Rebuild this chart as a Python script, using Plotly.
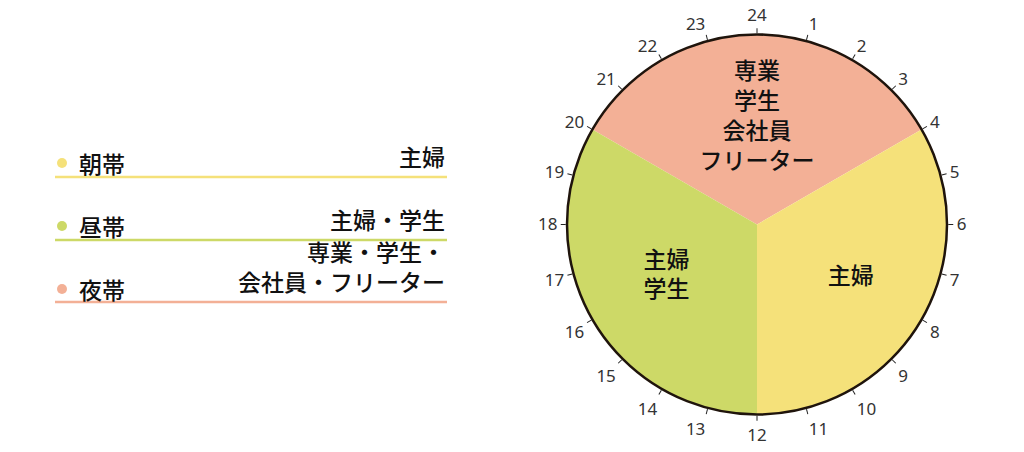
import plotly.graph_objects as go

# time bands (hours on a 24h clock)
bands = ["夜帯", "朝帯", "昼帯"]
band_start = [20, 4, 12]
band_hours = [8, 8, 8]
band_colors = ["#F3B096", "#F5E17A", "#CDD967"]
slice_labels = ["専業<br>学生<br>会社員<br>フリーター", "主婦", "主婦<br>学生"]
label_radius = [0.56, 0.57, 0.55]

# legend rows (top to bottom)
legend_names = ["朝帯", "昼帯", "夜帯"]
legend_targets = ["主婦", "主婦・学生", "専業・学生・<br>会社員・フリーター"]
legend_colors = ["#F5E17A", "#CDD967", "#F3B096"]

hours = list(range(24))
hour_text = ["24" if h == 0 else str(h) for h in hours]

# page body has an 8px margin, so the figure is a bit smaller than the window
OFF = 8
W, H = 1024 - OFF, 452 - OFF
FONT = "Noto Sans CJK JP"
TXT = dict(family=FONT, size=23, color="#111111", weight=500)


def px(x):
    return (x - OFF) / W


def py(y):
    return 1 - (y - OFF) / H


def deg(h):
    return h * 360 / 24


centers = [deg(s + n / 2) % 360 for s, n in zip(band_start, band_hours)]
widths = [deg(n) for n in band_hours]

fig = go.Figure()
fig.add_trace(go.Barpolar(
    r=[1] * len(bands),
    theta=centers,
    width=widths,
    marker=dict(color=band_colors, line=dict(width=0)),
    hoverinfo="skip",
))
fig.add_trace(go.Scatterpolar(
    r=label_radius,
    theta=centers,
    mode="text",
    text=slice_labels,
    textfont=TXT,
    hoverinfo="skip",
))

# legend block on the left, drawn by hand
row_y = [163, 226, 289]
line_y = [177, 240, 302]
shapes = []
annotations = []
for name, target, col, ty, ly in zip(legend_names, legend_targets, legend_colors, row_y, line_y):
    shapes.append(dict(type="circle", xref="paper", yref="paper",
                       x0=px(57), x1=px(67), y0=py(ty + 5), y1=py(ty - 5),
                       fillcolor=col, line=dict(width=0)))
    shapes.append(dict(type="line", xref="paper", yref="paper",
                       x0=px(55), x1=px(447), y0=py(ly), y1=py(ly),
                       line=dict(color=col, width=2.5)))
    annotations.append(dict(text=name, xref="paper", yref="paper",
                            x=px(77), y=py(ty), xanchor="left", yanchor="middle",
                            showarrow=False, font=TXT))
    annotations.append(dict(text=target, xref="paper", yref="paper",
                            x=px(447), y=py(ly - 2), xanchor="right", yanchor="bottom",
                            align="right", showarrow=False, font=TXT))

fig.update_layout(
    width=W, height=H,
    margin=dict(l=0, r=0, t=0, b=0),
    paper_bgcolor="white",
    showlegend=False,
    shapes=shapes,
    annotations=annotations,
    polar=dict(
        domain=dict(x=[px(567), px(947)], y=[py(415), py(34)]),
        bgcolor="white",
        bargap=0,
        radialaxis=dict(visible=False, range=[0, 1]),
        angularaxis=dict(
            rotation=90,
            direction="clockwise",
            tickmode="array",
            tickvals=[deg(h) for h in hours],
            ticktext=hour_text,
            ticks="outside",
            ticklen=5,
            tickcolor="#222222",
            tickwidth=1,
            showgrid=False,
            linecolor="#1f140c",
            linewidth=2.5,
            tickfont=dict(family="Noto Sans", size=17, color="#333333"),
        ),
    ),
)

fig.write_html("out.html")
